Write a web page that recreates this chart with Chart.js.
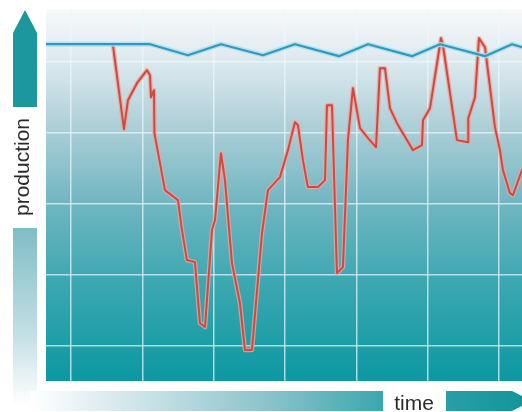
<!DOCTYPE html>
<html lang="en">
<head>
  <meta charset="UTF-8">
  <title>production / time</title>
  <script src="https://cdn.jsdelivr.net/npm/chart.js"></script>
  <style>
    html, body { margin: 0; padding: 0; background: #fff; }
    #wrap { width: 522px; height: 412px; }
  </style>
</head>
<body>
  <div id="wrap"><canvas id="chart" width="522" height="412"></canvas></div>

  <script>
    // time axis: grid lines every 10 units
    const xTicks = [10, 20, 30, 40, 50, 60, 70];
    const yTicks = [10, 20, 30, 40, 50];

    // planned (blue) production
    const planTime = [6.5, 21.08, 26.40, 31.03, 36.92, 41.40, 47.57, 51.64, 57.81, 61.73, 68.04, 71.83, 73.23];
    const planValue = [52.54, 52.54, 50.99, 52.54, 50.99, 52.54, 50.85, 52.54, 50.85, 52.54, 50.85, 52.54, 52.11];

    // actual (red) production
    const realTime = [15.89, 17.43, 17.99, 19.25, 20.65, 21.08, 21.22, 21.64, 21.70, 22.48,
      23.18, 25.00, 25.56, 26.26, 27.38, 28.08, 28.79, 29.77, 30.19, 31.03,
      31.59, 32.57, 33.69, 34.39, 35.37, 36.78, 37.62, 39.30, 40.42, 41.40,
      41.82, 42.52, 43.22, 44.63, 45.61, 45.89, 46.59, 47.29, 48.13, 48.83,
      49.53, 50.52, 51.64, 52.76, 53.32, 54.02, 54.72, 55.70, 57.94, 59.21,
      59.35, 60.33, 61.87, 62.15, 64.11, 65.66, 65.70, 66.64, 67.20, 68.04,
      69.44, 70.14, 70.56, 71.54, 71.96, 73.23];
    const realValue = [52.39, 40.56, 44.65, 47.04, 48.87, 48.17, 45.07, 46.06, 40.00, 35.78,
      31.97, 30.56, 26.34, 22.11, 21.83, 13.24, 12.68, 26.34, 27.75, 37.18,
      33.38, 21.69, 16.06, 9.44, 9.44, 25.92, 31.97, 33.80, 37.61, 41.55,
      41.13, 36.20, 32.40, 32.40, 33.38, 43.94, 43.94, 20.28, 21.13, 39.02,
      46.34, 40.71, 39.30, 38.03, 49.16, 49.16, 43.52, 41.41, 37.61, 38.31,
      41.83, 43.52, 53.38, 52.39, 39.02, 38.73, 42.11, 45.07, 53.38, 52.11,
      40.85, 37.61, 34.79, 31.55, 31.27, 34.79];

    const toPoints = (xs, ys) => xs.map((x, i) => ({ x: x, y: ys[i] }));
    const planPts = toPoints(planTime, planValue);
    const realPts = toPoints(realTime, realValue);

    const FONT = '"Liberation Sans", Arial, sans-serif';

    // background, arrows and labels
    const decor = {
      id: 'decor',
      beforeDraw(chart) {
        const ctx = chart.ctx;
        const a = chart.chartArea;
        ctx.save();
        ctx.fillStyle = '#ffffff';
        ctx.fillRect(0, 0, chart.width, chart.height);

        // plot area gradient
        let g = ctx.createLinearGradient(0, a.top, 0, a.bottom);
        g.addColorStop(0, '#f7f9fa');
        g.addColorStop(0.14, '#dde9ee');
        g.addColorStop(0.33, '#a9cdd6');
        g.addColorStop(0.52, '#70b6c1');
        g.addColorStop(0.72, '#3fa8b2');
        g.addColorStop(0.9, '#1d9ea7');
        g.addColorStop(1, '#0d98a1');
        ctx.fillStyle = g;
        ctx.fillRect(a.left, a.top, a.right - a.left, a.bottom - a.top);

        // y arrow (solid part)
        ctx.fillStyle = '#1b979d';
        ctx.beginPath();
        ctx.moveTo(13, 107);
        ctx.lineTo(13, 33);
        ctx.lineTo(25, 10);
        ctx.lineTo(37, 33);
        ctx.lineTo(37, 107);
        ctx.closePath();
        ctx.fill();

        // y arrow tail (fading)
        g = ctx.createLinearGradient(0, 228, 0, 405);
        g.addColorStop(0, '#7fbdc7');
        g.addColorStop(0.6, '#c3dfe4');
        g.addColorStop(1, '#ffffff');
        ctx.fillStyle = g;
        ctx.fillRect(13, 228, 24, 177);

        // x arrow
        g = ctx.createLinearGradient(30, 0, 522, 0);
        g.addColorStop(0, '#ffffff');
        g.addColorStop(0.2, '#d2e7eb');
        g.addColorStop(0.5, '#86c1c8');
        g.addColorStop(0.72, '#3aa6ad');
        g.addColorStop(1, '#14959b');
        ctx.fillStyle = g;
        ctx.beginPath();
        ctx.moveTo(30, 391);
        ctx.lineTo(512, 391);
        ctx.lineTo(532, 401);
        ctx.lineTo(512, 411);
        ctx.lineTo(30, 411);
        ctx.closePath();
        ctx.fill();

        // label boxes and text
        ctx.fillStyle = '#ffffff';
        ctx.fillRect(383, 390, 63, 22);
        ctx.fillStyle = '#2b2b2b';
        ctx.font = '21px ' + FONT;
        ctx.textAlign = 'center';
        ctx.textBaseline = 'alphabetic';
        ctx.fillText('time', 414, 410);

        ctx.translate(29, 167);
        ctx.rotate(-Math.PI / 2);
        ctx.fillText('production', 0, 0);
        ctx.restore();
      }
    };

    const ctx = document.getElementById('chart').getContext('2d');
    new Chart(ctx, {
      type: 'line',
      data: {
        datasets: [
          { data: planPts, borderColor: '#3199bf', borderWidth: 2.2 },
          { data: planPts, borderColor: 'rgba(170,225,238,0.85)', borderWidth: 5 },
          { data: realPts, borderColor: '#cc4a42', borderWidth: 2 },
          { data: realPts, borderColor: 'rgba(236,165,158,0.8)', borderWidth: 4.5 }
        ]
      },
      options: {
        responsive: false,
        animation: false,
        devicePixelRatio: 1,
        layout: { padding: { left: 46, right: 0, top: 9, bottom: 31 } },
        elements: {
          point: { radius: 0, hoverRadius: 0 },
          line: { tension: 0, fill: false, borderJoinStyle: 'round', borderCapStyle: 'round' }
        },
        plugins: { legend: { display: false }, tooltip: { enabled: false } },
        scales: {
          x: {
            type: 'linear',
            min: 6.5,
            max: 73.23,
            afterBuildTicks: s => { s.ticks = xTicks.map(v => ({ value: v })); },
            ticks: { display: false },
            border: { display: false },
            grid: { color: 'rgba(235,250,252,0.7)', lineWidth: 1.5, drawTicks: false }
          },
          y: {
            type: 'linear',
            min: 5.07,
            max: 57.5,
            afterBuildTicks: s => { s.ticks = yTicks.map(v => ({ value: v })); },
            ticks: { display: false },
            border: { display: false },
            grid: { color: 'rgba(235,250,252,0.7)', lineWidth: 1.5, drawTicks: false }
          }
        }
      },
      plugins: [decor]
    });
  </script>
</body>
</html>
